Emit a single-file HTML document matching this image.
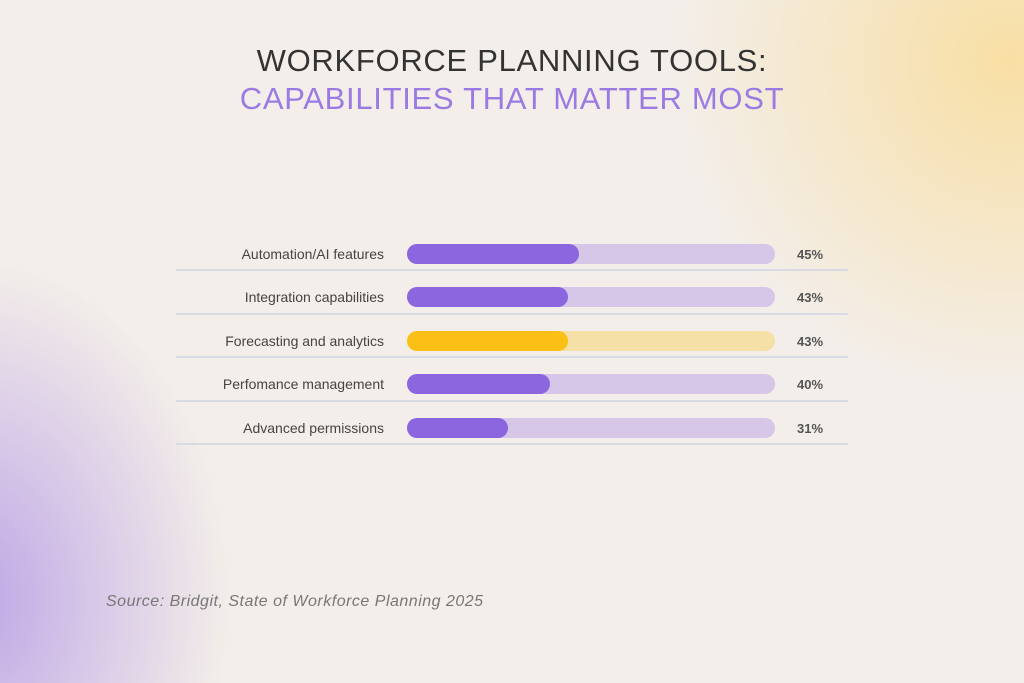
<!DOCTYPE html>
<html><head><style>
html,body{margin:0;padding:0}
body{width:1024px;height:683px;position:relative;overflow:hidden;background:#f3eee9;font-family:"Liberation Sans",sans-serif}
.bg{position:absolute;inset:0;background:
radial-gradient(ellipse 330px 330px at 1010px 60px,rgba(248,222,160,0.95),rgba(248,222,160,0) 100%),
radial-gradient(ellipse 260px 340px at -30px 600px,rgba(190,165,230,1),rgba(190,165,230,0) 100%);}
.t{position:absolute;left:0;width:1024px;text-align:center;font-size:31px;letter-spacing:0.7px}
.lab{position:absolute;width:210px;left:174px;text-align:right;font-size:14px;color:#444}
.track{position:absolute;left:407px;width:368px;height:20px;border-radius:10px;background:#d6c7e8}
.fill{position:absolute;left:0;top:0;height:20px;border-radius:10px;background:#8c66df}
.pct{position:absolute;left:797px;font-size:13px;color:#555;font-weight:bold}
.sep{position:absolute;left:176px;width:672px;height:2px;background:#d8dbe3}
.src{position:absolute;left:106px;top:593px;font-size:16px;letter-spacing:0.5px;font-style:italic;color:#777}
</style></head><body>
<div class="bg"></div>
<div class="t" style="top:43px;color:#333">WORKFORCE PLANNING TOOLS:</div>
<div class="t" style="top:81px;color:#9b7be3">CAPABILITIES THAT MATTER MOST</div>

<div class="lab" style="top:246px">Automation/AI features</div>
<div class="track" style="top:244px"><div class="fill" style="width:172px"></div></div>
<div class="pct" style="top:247px">45%</div>
<div class="sep" style="top:269px"></div>

<div class="lab" style="top:289px">Integration capabilities</div>
<div class="track" style="top:287px"><div class="fill" style="width:161px"></div></div>
<div class="pct" style="top:290px">43%</div>
<div class="sep" style="top:313px"></div>

<div class="lab" style="top:333px">Forecasting and analytics</div>
<div class="track" style="top:331px;background:#f5e0a8"><div class="fill" style="width:161px;background:#fbbf16"></div></div>
<div class="pct" style="top:334px">43%</div>
<div class="sep" style="top:356px"></div>

<div class="lab" style="top:376px">Perfomance management</div>
<div class="track" style="top:374px"><div class="fill" style="width:143px"></div></div>
<div class="pct" style="top:377px">40%</div>
<div class="sep" style="top:400px"></div>

<div class="lab" style="top:420px">Advanced permissions</div>
<div class="track" style="top:418px"><div class="fill" style="width:101px"></div></div>
<div class="pct" style="top:421px">31%</div>
<div class="sep" style="top:443px"></div>

<div class="src">Source: Bridgit, State of Workforce Planning 2025</div>
</body></html>
